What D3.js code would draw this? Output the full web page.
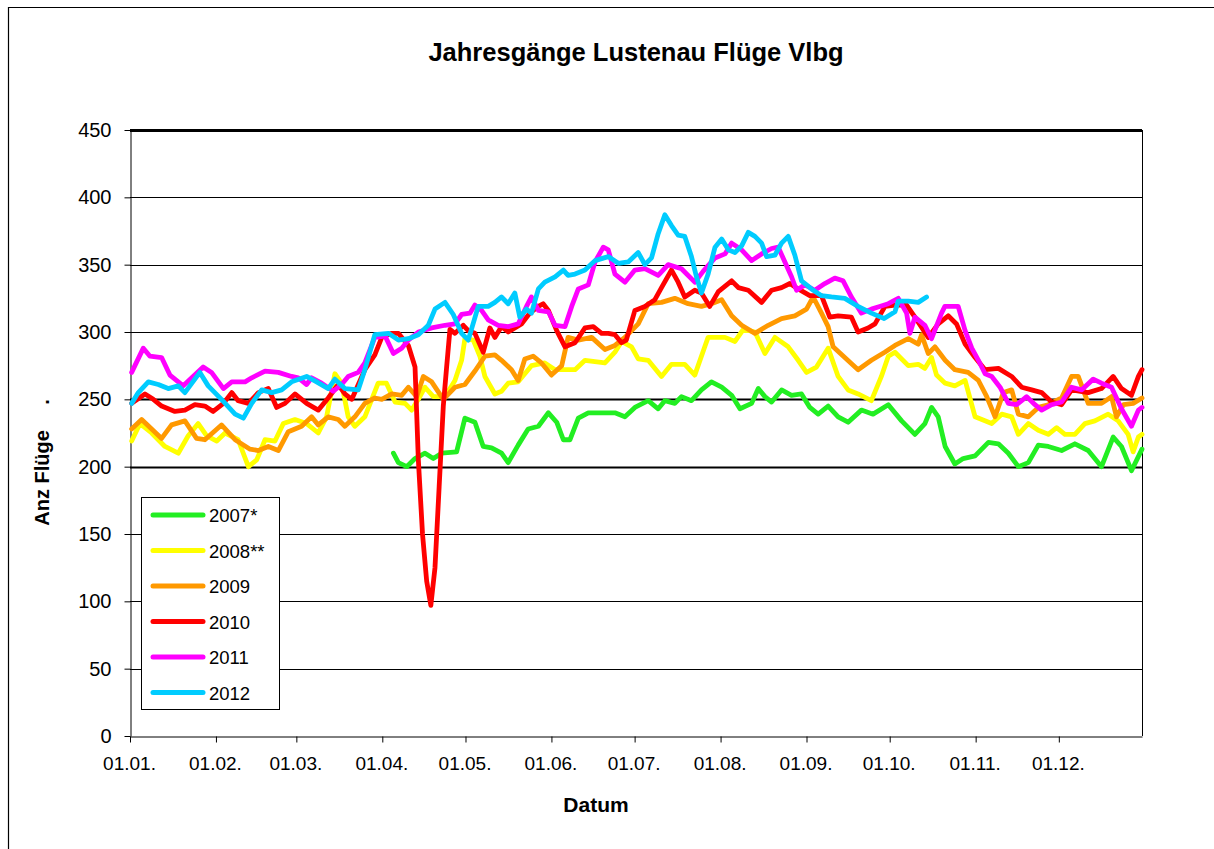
<!DOCTYPE html>
<html>
<head>
    <meta charset="utf-8">
    <title>Jahresgänge Lustenau Flüge Vlbg</title>
    <script src="https://cdn.jsdelivr.net/npm/d3@7"></script>
    <style>
        body {
            margin: 0;
            background: #fff;
            font-family: "Liberation Sans", Arial, sans-serif;
        }
        svg {
            display: block;
        }
        .tick text {
            fill: #000;
        }
    </style>
</head>
<body>
<script>
    // month ticks (leap-year day index) and labels
    var monthDays = [0, 31, 60, 91, 121, 152, 182, 213, 244, 274, 305, 335];
    var monthLabels = ['01.01.', '01.02.', '01.03.', '01.04.', '01.05.', '01.06.',
        '01.07.', '01.08.', '01.09.', '01.10.', '01.11.', '01.12.'];
    var yTicks = [0, 50, 100, 150, 200, 250, 300, 350, 400, 450];

    var years = ['2007*', '2008**', '2009', '2010', '2011', '2012'];
    var colors = ['#22ee22', '#ffff00', '#ff9900', '#ff0000', '#ff00ff', '#00ccff'];

    // [day, flights]
    var s2007 = [[95,210],[96.8,203],[99.8,200],[102.8,206],[106.4,210],[109.4,206],[112.4,210],[117.8,211],[120.8,236],[124.4,233],
        [127.4,215],[130.4,214],[134,210],[136.4,203],[140,216],[143.6,228],[147.3,230],[150.9,240],[153.9,233],[156.3,220],
        [158.7,220],[161.7,236],[165.3,240],[170.1,240],[174.9,240],[178.5,237],[182.1,244],[186.9,249],[190.5,243],[192.9,249],
        [196.5,247],[198.9,252],[202.5,249],[206.1,257],[209.7,263],[213.4,259],[217,253],[220,243],[224.2,247],[226.6,258],
        [229,252],[231.4,248],[235,257],[238.6,253],[242.2,254],[245.2,244],[248.2,239],[251.8,245],[255.4,237],[259,233],
        [263.8,242],[268,239],[273.5,246],[278.3,234],[283.1,224],[286.7,232],[289.1,244],[291.5,237],[294,215],[297.5,202],
        [300.5,206],[304.8,208],[309.6,218],[313.2,217],[316.8,210],[320.4,200],[324,203],[327.6,216],[331.2,215],[336,212],
        [340.8,217],[345.6,212],[350.4,200],[354.6,222],[357.6,215],[361.2,197],[365,213]];

    var s2008 = [[0.6,219],[3.6,232],[7.8,225],[12.6,215],[17.4,210],[21,223],[24.6,232],[27.6,223],[31.3,219],[34.3,225],
        [39,220],[42.7,200],[45.7,205],[48.7,220],[52.3,219],[55.3,232],[59.5,235],[63.7,232],[67.9,225],[70.9,237],
        [73.9,269],[76.3,262],[78.7,237],[81.1,230],[84.7,237],[89.5,262],[92.5,262],[95.6,248],[99.2,247],[101.6,242],
        [104,250],[106.4,259],[109.4,252],[113.6,252],[117.2,264],[119.6,279],[120.8,295],[123.8,294],[126.2,282],[128,267],
        [131.6,254],[134,256],[136.4,262],[140,263],[144.8,275],[149.6,277],[153.3,272],[156.9,272],[160.5,272],[164.1,279],
        [167.7,278],[171.3,277],[174.9,285],[177.3,293],[180.9,289],[183.3,280],[186.9,279],[191.7,267],[195.3,276],[200.1,276],
        [203.7,268],[207.3,289],[208.5,296],[214.6,296],[218.2,293],[221.2,302],[225.4,300],[229,284],[232.6,296],[237.4,289],
        [241,279],[244,270],[247.6,274],[251.8,288],[255.4,267],[259,257],[262.6,254],[267.4,249],[271,267],[273.5,282],
        [275.9,285],[280.7,275],[284.3,276],[286.7,273],[289.1,281],[290.9,268],[294,262],[297.5,260],[301.2,264],[304.8,237],
        [310.8,232],[314.4,239],[318,237],[320.4,224],[324,232],[327.6,227],[331.2,224],[334.2,229],[337.2,224],[340.8,224],
        [344.4,232],[348,234],[352.8,239],[356.4,234],[360,224],[361.8,211],[363.7,222],[365,224]];

    var s2009 = [[0.6,228],[4.2,235],[7.8,228],[11.4,221],[15,231],[19.8,234],[24,221],[27,220],[33,231],[37.9,220],
        [43.3,213],[46.3,212],[49.9,215],[53.5,212],[57.1,226],[61.9,230],[65.5,237],[67.9,231],[71.5,237],[75.1,235],
        [77.5,230],[81.1,237],[84.7,247],[88.3,251],[90.8,250],[94.4,254],[98,253],[100.4,259],[103.4,252],[105.8,267],
        [108.8,263],[113,250],[117.2,259],[120.8,261],[124.4,271],[128,282],[131.6,283],[134,279],[137.6,272],[140,264],
        [142.4,280],[145.4,282],[148.4,277],[152,268],[155.7,275],[158,296],[161.7,294],[166.5,296],[171.3,287],[174.9,290],
        [178.5,296],[183.3,306],[186.9,321],[191.7,322],[196.5,325],[201.3,321],[206.1,319],[209.7,321],[213.4,324],[217,312],
        [220.6,305],[225.4,299],[230.2,305],[235,310],[239.8,312],[244,317],[246.4,326],[249.4,314],[251.8,304],[253.6,289],
        [257.8,281],[262.6,272],[267.4,279],[272.2,285],[275.9,290],[280.7,295],[284.3,291],[285.5,298],[287.9,284],[290.3,289],
        [294,279],[297.5,272],[302.3,270],[306,264],[309,252],[312,237],[315,255],[318,257],[320.4,239],[324,237],
        [327.6,244],[331.2,246],[336,251],[339.6,267],[342,267],[345.6,247],[350.4,247],[354,252],[355.8,237],[358.3,246],
        [361.8,247],[365,251]];

    var s2010 = [[0.6,247],[5.4,254],[8.4,250],[11.4,245],[16.2,241],[19.8,242],[23.4,246],[27,245],[30,241],[33.7,247],
        [36.7,255],[39,249],[42.7,247],[46.3,255],[49.9,258],[52.9,244],[55.9,247],[59.5,254],[63.7,247],[67.9,242],
        [71.5,251],[75.1,261],[77.5,254],[80,250],[84.7,272],[88.3,283],[90.8,296],[94.4,299],[96.8,299],[100.4,290],
        [102.8,274],[104,205],[105.5,150],[107,115],[108.5,97],[110,125],[111.5,185],[113,245],[114.2,274],[115.4,302],
        [117.2,299],[120.2,305],[122,301],[124.4,299],[127.4,285],[129.8,303],[131.6,296],[134,304],[136.4,300],[141.2,306],
        [144.2,314],[147.3,319],[149,321],[150.9,316],[153.9,301],[156.9,289],[160.5,292],[164.1,303],[167.1,304],[170.1,299],
        [172.5,299],[174.9,298],[177.3,292],[179,294],[182.1,316],[185.7,319],[189.3,324],[191.7,333],[195.3,346],[197.7,337],
        [200.1,326],[203.7,331],[206.1,329],[209.1,319],[212.2,330],[217,338],[219.4,333],[223,331],[227.8,322],[231.4,331],
        [235,333],[238,336],[241,332],[245.2,327],[249.4,327],[252.4,311],[255.4,312],[260.2,311],[262.6,300],[266.2,303],
        [268.7,306],[272.3,319],[275.9,320],[280.1,320],[283.1,311],[287.9,296],[291.5,306],[295.1,312],[298.1,306],[301.2,291],
        [304.8,281],[308.4,272],[313.2,273],[318,267],[321.6,259],[325.2,257],[328.8,255],[332.4,248],[336,246],[339.6,257],
        [345.6,255],[350.4,258],[354.6,267],[357.6,258],[361.2,253],[363.7,267],[365,272]];

    var s2011 = [[0.6,270],[4.8,288],[7.2,282],[11.4,281],[14.4,268],[19.2,260],[26.4,274],[29.4,270],[33.7,258],[36.7,263],
        [41.5,263],[43.9,266],[48.7,271],[53.5,270],[58.3,267],[60.7,266],[63.7,261],[65.5,266],[69.1,262],[73.3,256],
        [76.3,261],[78.7,267],[82.3,270],[84.7,277],[88.3,296],[92,297],[95,284],[98,288],[100.4,294],[104,300],
        [108.8,303],[113.6,305],[117.2,306],[119.6,313],[122.6,314],[124.4,320],[126.8,316],[129.2,309],[132.8,305],[136.4,304],
        [140,306],[143,319],[144.8,326],[147.3,316],[150.9,315],[153.3,305],[156.9,304],[159.3,319],[161.7,332],[165.3,335],
        [167.7,352],[170.7,363],[172.5,361],[174.9,343],[178.5,337],[182.1,346],[185.7,347],[190.5,342],[194.1,350],[198.9,347],
        [203.7,337],[206.7,345],[211,355],[214.6,358],[217,366],[220.6,361],[224.2,353],[227.8,358],[231.4,362],[233.8,363],
        [236.2,352],[238.6,341],[240.4,331],[243.4,335],[247,331],[250.6,336],[254.2,340],[257.2,338],[260.2,326],[263.8,314],
        [267.4,317],[270.4,319],[273.5,321],[277.1,325],[280.1,314],[281.3,299],[283.1,311],[286.7,305],[289.1,295],[292.7,314],
        [293.9,319],[298.7,319],[301.2,301],[303.6,288],[306,279],[308.4,269],[310.8,267],[313.8,259],[316.8,247],[319.8,246],
        [323.4,252],[326.4,246],[328.8,242],[332.4,246],[336,248],[339.6,259],[343.2,257],[347.4,265],[350.4,262],[354,259],
        [357.6,243],[361.2,230],[363.7,242],[365,244]];

    var s2012 = [[0.6,247],[3,255],[6.6,263],[10.2,261],[13.8,258],[17.4,260],[19.8,255],[25.2,270],[28.2,260],[33,250],
        [37.9,239],[40.9,236],[43.9,247],[47.5,257],[51.1,255],[54.7,257],[58.3,263],[63.7,267],[67.3,263],[71.5,258],
        [73.9,265],[77.5,258],[82.3,257],[84.7,272],[88.3,298],[93.2,299],[96.8,294],[100.4,295],[104,298],[107.6,305],
        [110,317],[113.6,322],[116.6,313],[119.6,299],[122,294],[125.6,319],[129.2,319],[131.6,322],[134,326],[136.4,321],
        [138.8,329],[140.6,311],[143,317],[144.8,314],[147.3,332],[149.6,337],[153.3,341],[156.3,346],[158,342],[160.5,343],
        [164.1,346],[167.7,353],[172.5,356],[176.1,351],[179.7,352],[183.3,359],[185.7,350],[188.1,355],[190.5,373],[192.9,387],
        [195.3,379],[197.7,372],[200.1,371],[202.5,356],[204.3,341],[206.1,329],[208.5,343],[211,363],[213.4,369],[215.8,361],
        [218.2,359],[220.6,364],[223,374],[225.4,371],[227.8,366],[229.6,356],[232.6,357],[235,366],[237.4,371],[239.8,357],
        [242.2,338],[245.8,332],[249.4,327],[253,326],[257.8,325],[262.6,319],[267.4,314],[272,310],[275.9,315],[277.1,323],
        [280.7,323],[284.3,322],[287.3,326]];

    var series = [s2007, s2008, s2009, s2010, s2011, s2012];

    var W = 1214, H = 849;
    var plotLeft = 130, plotTop = 130, plotRight = 1142, plotBottom = 736;

    var svg = d3.select('body').append('svg')
        .attr('width', W)
        .attr('height', H);

    // outer frame (top and left only)
    svg.append('line').attr('x1', 8).attr('x2', W).attr('y1', 7.5).attr('y2', 7.5)
        .attr('stroke', '#000').attr('stroke-width', 1.2);
    svg.append('line').attr('x1', 8.5).attr('x2', 8.5).attr('y1', 7).attr('y2', H)
        .attr('stroke', '#000').attr('stroke-width', 1.2);

    var x = d3.scaleLinear().domain([0, 365]).range([plotLeft, plotRight]);
    var y = d3.scaleLinear().domain([0, 450]).range([plotBottom, plotTop]);

    // gridlines
    svg.append('g').selectAll('line.grid').data(yTicks.filter(function (d) { return d > 0; }))
        .enter().append('line')
        .attr('class', 'grid')
        .attr('x1', plotLeft).attr('x2', plotRight)
        .attr('y1', function (d) { return Math.round(y(d)) + 0.5; })
        .attr('y2', function (d) { return Math.round(y(d)) + 0.5; })
        .attr('stroke', '#000')
        .attr('stroke-width', function (d) { return d === 450 ? 2.8 : (d === 250 || d === 200 ? 2 : 1); });

    // right border of plot
    svg.append('line').attr('x1', plotRight + 0.5).attr('x2', plotRight + 0.5)
        .attr('y1', plotTop).attr('y2', plotBottom)
        .attr('stroke', '#000').attr('stroke-width', 1);

    // axes
    var xAxis = d3.axisBottom(x)
        .tickValues(monthDays)
        .tickFormat(function (d, i) { return monthLabels[i]; })
        .tickSizeInner(6).tickSizeOuter(0).tickPadding(14);
    var gx = svg.append('g').attr('transform', 'translate(0,' + (plotBottom + 0.5) + ')').call(xAxis);
    gx.selectAll('text').attr('dx', '-1').style('font-size', '19px');

    var yAxis = d3.axisLeft(y)
        .tickValues(yTicks)
        .tickSizeInner(6).tickSizeOuter(0).tickPadding(13);
    var gy = svg.append('g').attr('transform', 'translate(' + (plotLeft + 0.5) + ',0)').call(yAxis);
    gy.selectAll('text').style('font-size', '20px');

    svg.selectAll('.domain, .tick line').attr('stroke', '#000');
    svg.selectAll('.tick text').style('font-family', '"Liberation Sans", Arial, sans-serif');

    // lines
    var line = d3.line()
        .x(function (d) { return x(d[0]); })
        .y(function (d) { return y(d[1]); })
        .curve(d3.curveLinear);

    svg.append('g').selectAll('path.yr').data(series)
        .enter().append('path')
        .attr('class', 'yr')
        .attr('d', line)
        .attr('fill', 'none')
        .attr('stroke', function (d, i) { return colors[i]; })
        .attr('stroke-width', 4.8)
        .attr('stroke-linejoin', 'round')
        .attr('stroke-linecap', 'round');

    // titles
    svg.append('text')
        .attr('x', 636).attr('y', 61)
        .attr('text-anchor', 'middle')
        .style('font-size', '25.5px').style('font-weight', 'bold')
        .text('Jahresgänge Lustenau Flüge Vlbg');

    svg.append('text')
        .attr('x', 596).attr('y', 812)
        .attr('text-anchor', 'middle')
        .style('font-size', '21px').style('font-weight', 'bold')
        .text('Datum');

    svg.append('text')
        .attr('transform', 'translate(49,478) rotate(-90)')
        .attr('text-anchor', 'middle')
        .style('font-size', '20px').style('font-weight', 'bold')
        .text('Anz Flüge');
    svg.append('text')
        .attr('transform', 'translate(49,402) rotate(-90)')
        .attr('text-anchor', 'middle')
        .style('font-size', '20px').style('font-weight', 'bold')
        .text('.');

    // legend
    var legend = svg.append('g');
    legend.append('rect')
        .attr('x', 141.5).attr('y', 497.5)
        .attr('width', 138).attr('height', 212)
        .attr('fill', '#fff').attr('stroke', '#000').attr('stroke-width', 1);
    var item = legend.selectAll('g.item').data(years)
        .enter().append('g')
        .attr('class', 'item')
        .attr('transform', function (d, i) { return 'translate(0,' + (515 + i * 35.5) + ')'; });
    item.append('line')
        .attr('x1', 153).attr('x2', 203)
        .attr('stroke', function (d, i) { return colors[i]; })
        .attr('stroke-width', 5).attr('stroke-linecap', 'round');
    item.append('text')
        .attr('x', 209).attr('y', 7)
        .style('font-size', '18.5px')
        .text(function (d) { return d; });
</script>
</body>
</html>
